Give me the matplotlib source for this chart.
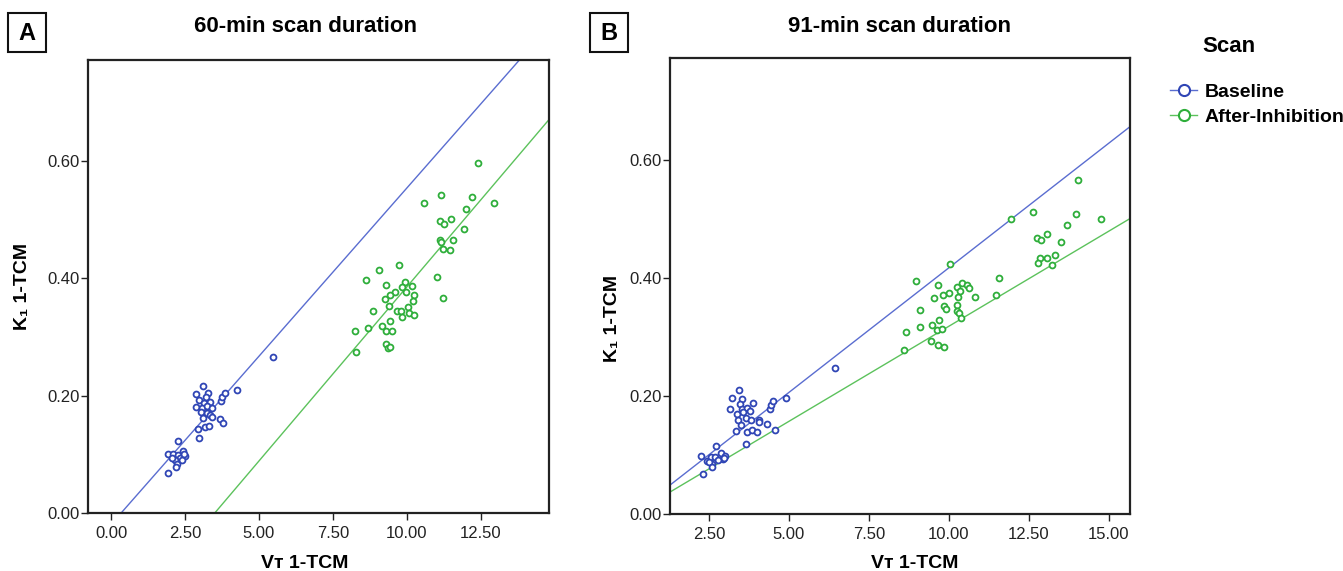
import numpy as np
import matplotlib
matplotlib.use("Agg")
import matplotlib.pyplot as plt
from matplotlib.lines import Line2D
from matplotlib.patches import Rectangle

plt.rcParams["font.family"] = ["Liberation Sans", "DejaVu Sans"]

# ---- Panel A: 60-min scan (VT, K1) ----
a_base_vt = [3.11, 2.89, 3.29, 3.20, 2.98, 3.15, 3.34, 2.89, 3.06, 3.25, 3.40, 3.04, 3.23, 3.34,
             3.40, 3.10, 2.95, 3.18, 3.32, 2.97, 3.68, 3.79, 3.72, 3.75, 3.85, 4.25, 5.48,
             2.27, 1.91, 2.10, 2.27, 2.44, 2.50, 2.33, 2.16, 2.39, 2.22, 2.20, 1.91, 2.05, 2.47]
a_base_k1 = [0.217, 0.202, 0.204, 0.198, 0.192, 0.188, 0.189, 0.181, 0.179, 0.182, 0.179, 0.172,
             0.171, 0.167, 0.164, 0.162, 0.144, 0.147, 0.148, 0.128, 0.161, 0.153, 0.191, 0.198,
             0.204, 0.209, 0.266,
             0.123, 0.101, 0.100, 0.099, 0.106, 0.097, 0.094, 0.091, 0.091, 0.083, 0.078, 0.069,
             0.094, 0.101]
a_inh_vt = [12.42, 11.17, 10.57, 12.22, 12.94, 12.00, 11.11, 11.26, 11.51, 11.95, 11.14, 11.15,
            11.58, 11.23, 11.46, 9.07, 9.74, 8.63, 9.29, 9.94, 9.85, 10.17, 9.97, 9.59, 9.44,
            9.26, 10.25, 10.23, 11.04, 11.23, 9.39, 10.06, 9.67, 9.80, 10.08, 10.24, 8.86, 9.83,
            8.69, 9.18, 9.44, 9.29, 9.50, 8.24, 8.28, 9.31, 9.37, 9.43]
a_inh_k1 = [0.596, 0.542, 0.528, 0.539, 0.528, 0.518, 0.498, 0.492, 0.501, 0.484, 0.466, 0.462,
            0.466, 0.450, 0.449, 0.414, 0.423, 0.397, 0.388, 0.393, 0.385, 0.387, 0.377, 0.376,
            0.372, 0.365, 0.371, 0.362, 0.403, 0.367, 0.353, 0.351, 0.345, 0.345, 0.340, 0.337,
            0.344, 0.334, 0.316, 0.319, 0.327, 0.310, 0.311, 0.310, 0.275, 0.288, 0.282, 0.283]

# ---- Panel B: 91-min scan ----
b_base_vt = [3.43, 3.23, 3.54, 3.47, 3.88, 3.16, 3.52, 3.68, 3.78, 3.37, 3.57, 3.42, 3.66, 3.80,
             3.49, 3.33, 3.70, 3.83, 3.99, 3.67, 4.06, 4.07, 4.32, 4.57, 4.41, 4.45, 4.49, 4.91,
             2.71, 2.25, 2.43, 2.55, 2.69, 2.88, 3.00, 2.93, 2.79, 2.58, 2.51, 2.59, 2.32, 2.97,
             6.44]
b_base_k1 = [0.210, 0.196, 0.195, 0.187, 0.188, 0.177, 0.177, 0.179, 0.175, 0.169, 0.173, 0.160,
             0.162, 0.160, 0.151, 0.140, 0.139, 0.142, 0.139, 0.119, 0.160, 0.155, 0.153, 0.143,
             0.177, 0.184, 0.191, 0.197,
             0.116, 0.098, 0.090, 0.096, 0.097, 0.104, 0.099, 0.093, 0.092, 0.084, 0.088, 0.080,
             0.068, 0.095, 0.247]
b_inh_vt = [14.04, 12.62, 11.93, 13.98, 14.75, 13.68, 12.75, 12.88, 13.06, 13.50, 12.85, 13.07,
            13.30, 12.79, 13.22, 10.04, 8.96, 9.66, 11.57, 10.40, 10.24, 10.55, 10.62, 10.34,
            10.01, 9.80, 9.53, 10.29, 10.82, 11.48, 9.83, 9.91, 10.24, 10.26, 10.32, 10.38, 9.09,
            9.70, 8.65, 9.10, 9.46, 9.63, 9.77, 9.43, 9.67, 9.83, 8.60]
b_inh_k1 = [0.565, 0.512, 0.499, 0.508, 0.500, 0.490, 0.468, 0.464, 0.474, 0.460, 0.434, 0.434,
            0.439, 0.425, 0.422, 0.423, 0.395, 0.388, 0.400, 0.391, 0.384, 0.387, 0.383, 0.377,
            0.374, 0.371, 0.366, 0.367, 0.368, 0.370, 0.352, 0.347, 0.354, 0.344, 0.341, 0.332,
            0.346, 0.329, 0.309, 0.316, 0.320, 0.311, 0.313, 0.293, 0.286, 0.282, 0.277]

# fit lines: (slope, intercept)
a_base_fit = (0.0573, -0.0195)
a_inh_fit = (0.0593, -0.208)
b_base_fit = (0.0422, -0.005)
b_inh_fit = (0.0322, -0.004)

BLUE_PT = "#2f45b5"
BLUE_LN = "#5a6dd0"
GREEN_PT = "#2eae3a"
GREEN_LN = "#5cc25c"

fig = plt.figure(figsize=(13.43, 5.71), dpi=100)


def draw_panel(rect, xlim, xticks, base, inh, base_fit, inh_fit):
    ax = fig.add_axes(rect)
    xs = np.array(xlim)
    ax.plot(xs, base_fit[0] * xs + base_fit[1], color=BLUE_LN, lw=1.0, zorder=2)
    ax.plot(xs, inh_fit[0] * xs + inh_fit[1], color=GREEN_LN, lw=1.0, zorder=2)
    ax.scatter(base[0], base[1], s=18, facecolors="white", edgecolors=BLUE_PT,
               linewidths=1.3, zorder=3)
    ax.scatter(inh[0], inh[1], s=18, facecolors="white", edgecolors=GREEN_PT,
               linewidths=1.3, zorder=3)
    ax.set_xlim(*xlim)
    ax.set_ylim(0, 0.772)
    ax.set_xticks(xticks)
    ax.set_xticklabels([f"{t:.2f}" for t in xticks])
    yt = [0.0, 0.2, 0.4, 0.6]
    ax.set_yticks(yt)
    ax.set_yticklabels([f"{t:.2f}" for t in yt])
    ax.tick_params(axis="both", labelsize=12, color="#222222", direction="out",
                   length=5, width=1.0, labelcolor="#222222", pad=4)
    ax.tick_params(axis="y", pad=1)
    for sp in ax.spines.values():
        sp.set_color("#222222")
        sp.set_linewidth(1.6)
    return ax


axA = draw_panel([0.0655, 0.1015, 0.343, 0.7935], (-0.78, 14.8),
                 [0.0, 2.5, 5.0, 7.5, 10.0, 12.5],
                 (a_base_vt, a_base_k1), (a_inh_vt, a_inh_k1), a_base_fit, a_inh_fit)
axB = draw_panel([0.4989, 0.0998, 0.3425, 0.7985], (1.28, 15.66),
                 [2.5, 5.0, 7.5, 10.0, 12.5, 15.0],
                 (b_base_vt, b_base_k1), (b_inh_vt, b_inh_k1), b_base_fit, b_inh_fit)

# titles
fig.text(305 / 1343, 1 - 27 / 571, "60-min scan duration", ha="center", va="center",
         fontsize=16, fontweight="bold")
fig.text(900 / 1343, 1 - 27 / 571, "91-min scan duration", ha="center", va="center",
         fontsize=16, fontweight="bold")

# panel letters in boxes
for x0, letter in [(8, "A"), (590, "B")]:
    fig.patches.append(Rectangle((x0 / 1343, 1 - 52 / 571), 38 / 1343, 39 / 571,
                                 transform=fig.transFigure, fill=False,
                                 edgecolor="#111111", linewidth=1.5))
    fig.text((x0 + 19) / 1343, 1 - 33 / 571, letter, ha="center", va="center",
             fontsize=17, fontweight="bold")

# axis labels
for xc in (305, 915):
    fig.text(xc / 1343, 1 - 563 / 571, "V\u1d1b 1-TCM", ha="center", va="center",
             fontsize=14, fontweight="bold")
fig.text(22 / 1343, 1 - 287 / 571, "K\u2081 1-TCM", ha="center", va="center",
         rotation=90, fontsize=14, fontweight="bold")
fig.text(613 / 1343, 1 - 318 / 571, "K\u2081 1-TCM", ha="center", va="center",
         rotation=90, fontsize=14, fontweight="bold")

# legend
fig.text(1229 / 1343, 1 - 47 / 571, "Scan", ha="center", va="center",
         fontsize=16, fontweight="bold")
handles = [
    Line2D([0], [0], color=BLUE_LN, lw=1.0, marker="o", markersize=8,
           markerfacecolor="white", markeredgecolor=BLUE_PT, markeredgewidth=1.5),
    Line2D([0], [0], color=GREEN_LN, lw=1.0, marker="o", markersize=8,
           markerfacecolor="white", markeredgecolor=GREEN_PT, markeredgewidth=1.5),
]
leg = fig.legend(handles, ["Baseline", "After-Inhibition"], loc="upper left",
                 bbox_to_anchor=(1170 / 1343, 1 - 83 / 571), frameon=False,
                 handlelength=1.4, handletextpad=0.4, labelspacing=0.4,
                 prop={"size": 14, "weight": "bold"}, borderaxespad=0, borderpad=0)

fig.savefig("out.png", dpi=100)
plt.close(fig)
